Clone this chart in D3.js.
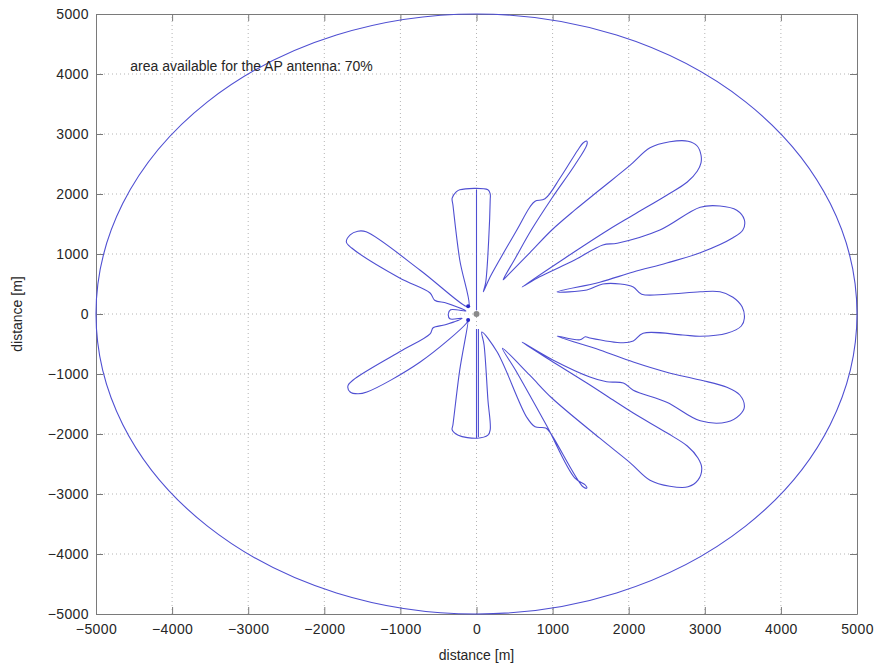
<!DOCTYPE html>
<html>
<head>
<meta charset="utf-8">
<script src="https://cdnjs.cloudflare.com/ajax/libs/d3/7.8.5/d3.min.js"></script>
<style>
body { margin: 0; background: #fff; }
svg text { font-family: "Liberation Sans", Arial, sans-serif; fill: #262626; }
</style>
</head>
<body>
<div id="chart"></div>
<script>
// ticks on both axes (meters)
var xTicks = [-5000, -4000, -3000, -2000, -1000, 0, 1000, 2000, 3000, 4000, 5000];
var yTicks = [-5000, -4000, -3000, -2000, -1000, 0, 1000, 2000, 3000, 4000, 5000];
var xLabel = "distance [m]";
var yLabel = "distance [m]";
var cellRadius = 5000;
var noteText = "area available for the AP antenna: 70%";
var notePos = [-4550, 4050];

// contour of the available area, clockwise from the top lobe
var topLobe = [[-100,130],[-220,900],[-310,1820],[-320,1930],[-270,2030],[-220,2070],[150,2070],[180,2000],[180,1900],[160,1230],[120,520],[90,370]];
var upperSpike = [[180,620],[530,1400],[700,1780],[770,1880],[900,1920],[1100,2270],[1330,2730],[1400,2850],[1450,2880],[1450,2820],[1290,2480],[990,1930],[720,1400],[510,930],[350,570]];
var lobeA = [[390,620],[700,1020],[990,1400],[1290,1730],[1620,2070],[2020,2480],[2280,2770],[2540,2870],[2780,2880],[2900,2800],[2950,2650],[2950,2520],[2900,2380],[2770,2200],[2500,1980],[2060,1650],[1730,1400],[1160,930],[600,450]];
var lobeB = [[830,620],[1290,900],[1660,1150],[1850,1180],[2410,1400],[2940,1780],[3200,1800],[3420,1730],[3520,1570],[3500,1400],[3370,1270],[2940,1020],[2500,850],[2060,700],[1620,530],[1060,370]];
var lobeC = [[1450,400],[1660,500],[1890,500],[2060,450],[2170,330],[2500,330],[2940,370],[3200,370],[3370,280],[3490,120],[3520,-70],[3480,-200],[3290,-320],[2940,-370],[2710,-350],[2190,-320],[2060,-450],[1930,-480],[1490,-400],[1430,-380],[1360,-430],[1060,-370]];
var lobeD = [[1620,-600],[2060,-800],[2500,-970],[2940,-1100],[3290,-1220],[3460,-1350],[3520,-1550],[3460,-1680],[3290,-1800],[2940,-1780],[2500,-1470],[2060,-1270],[1930,-1150],[1710,-1130],[1490,-1050],[1010,-770],[600,-470]];
var lobeE = [[970,-770],[1450,-1150],[1790,-1430],[2060,-1650],[2500,-1980],[2770,-2200],[2910,-2400],[2960,-2570],[2910,-2770],[2780,-2880],[2540,-2870],[2280,-2770],[2020,-2480],[1620,-2070],[990,-1400],[700,-1020],[340,-570]];
var lowerSpike = [[510,-930],[720,-1400],[930,-1880],[1290,-2730],[1430,-2850],[1450,-2900],[1400,-2880],[970,-1980],[910,-1900],[770,-1880],[660,-1720],[270,-630],[70,-300]];
var bottomLobe = [[100,-520],[150,-1430],[180,-1930],[150,-2020],[10,-2070],[-240,-2020],[-320,-1930],[-310,-1850],[-220,-930],[-110,-100]];
var lobeG = [[-130,-150],[-740,-800],[-1440,-1300],[-1560,-1330],[-1660,-1300],[-1690,-1200],[-1620,-1100],[-1010,-630],[-610,-330],[-570,-230],[-410,-180],[-190,-70]];
var centerLoop = [[-350,-80],[-370,0],[-340,70],[-140,50]];
var lobeF = [[-390,180],[-550,230],[-610,350],[-1010,600],[-1640,1100],[-1710,1200],[-1660,1320],[-1560,1380],[-1450,1370],[-740,730],[-140,130]];

// straight slits along x = 0
var topSlit = [[0,60],[0,2070]];
var bottomSlit = [[0,-250],[0,-2070]];
var bottomSlit2 = [[25,-250],[25,-2050]];

var contour = [].concat(topLobe, upperSpike, lobeA, lobeB, lobeC, lobeD, lobeE, lowerSpike, bottomLobe, lobeG, centerLoop, lobeF);

var width = 878;
var height = 668;
var margin = { top: 14, right: 21, bottom: 54, left: 96 };
var lineColor = "#4f4fd2";

var svg = d3.select("#chart")
    .append("svg")
    .attr("width", width)
    .attr("height", height);

var x = d3.scaleLinear().domain([-5000, 5000]).range([margin.left, width - margin.right]);
var y = d3.scaleLinear().domain([-5000, 5000]).range([height - margin.bottom, margin.top]);

// dotted grid
svg.append("g").selectAll("line")
    .data(xTicks.slice(1, -1))
    .enter().append("line")
    .attr("x1", d => x(d)).attr("x2", d => x(d))
    .attr("y1", y(-5000)).attr("y2", y(5000))
    .attr("stroke", "#b4b4b4")
    .attr("stroke-dasharray", "1,3");

svg.append("g").selectAll("line")
    .data(yTicks.slice(1, -1))
    .enter().append("line")
    .attr("y1", d => y(d)).attr("y2", d => y(d))
    .attr("x1", x(-5000)).attr("x2", x(5000))
    .attr("stroke", "#b4b4b4")
    .attr("stroke-dasharray", "1,3");

// axes, ticks pointing inside like matlab
var bottomAxis = d3.axisBottom(x).tickValues(xTicks).tickSizeInner(-7).tickSizeOuter(0).tickPadding(10).tickFormat(d3.format("d"));
var leftAxis = d3.axisLeft(y).tickValues(yTicks).tickSizeInner(-7).tickSizeOuter(0).tickPadding(7).tickFormat(d3.format("d"));

svg.append("g")
    .attr("transform", "translate(0," + y(-5000) + ")")
    .call(bottomAxis);
svg.append("g")
    .attr("transform", "translate(" + x(-5000) + ",0)")
    .call(leftAxis);

svg.append("g")
    .attr("transform", "translate(0," + y(5000) + ")")
    .call(d3.axisTop(x).tickValues(xTicks).tickSizeInner(-7).tickSizeOuter(0).tickFormat(""));
svg.append("g")
    .attr("transform", "translate(" + x(5000) + ",0)")
    .call(d3.axisRight(y).tickValues(yTicks).tickSizeInner(-7).tickSizeOuter(0).tickFormat(""));

svg.selectAll(".domain").attr("stroke", "#7a7a7a");
svg.selectAll(".tick line").attr("stroke", "#7a7a7a");
svg.selectAll(".tick text")
    .style("font-size", "14px")
    .style("letter-spacing", "0.4px")
    .attr("fill", "#262626");

// axis labels
svg.append("text")
    .attr("x", x(0))
    .attr("y", 660)
    .attr("text-anchor", "middle")
    .style("font-size", "14px")
    .text(xLabel);

svg.append("text")
    .attr("transform", "translate(22," + y(0) + ") rotate(-90)")
    .attr("text-anchor", "middle")
    .style("font-size", "14px")
    .text(yLabel);

// cell boundary
svg.append("ellipse")
    .attr("cx", x(0))
    .attr("cy", y(0))
    .attr("rx", x(cellRadius) - x(0))
    .attr("ry", y(0) - y(cellRadius))
    .attr("fill", "none")
    .attr("stroke", lineColor)
    .attr("stroke-width", 1.1);

// smooth a bit, the original contour looks rounded
var line = d3.line()
    .x(d => x(d[0]))
    .y(d => y(d[1]))
    .curve(d3.curveCatmullRomClosed.alpha(0.5));

var straight = d3.line()
    .x(d => x(d[0]))
    .y(d => y(d[1]));

svg.append("path")
    .attr("d", line(contour))
    .attr("fill", "none")
    .attr("stroke", lineColor)
    .attr("stroke-width", 1.1)
    .attr("stroke-linejoin", "round");

[topSlit, bottomSlit, bottomSlit2].forEach(function (s) {
    svg.append("path")
        .attr("d", straight(s))
        .attr("fill", "none")
        .attr("stroke", lineColor)
        .attr("stroke-width", 1.1);
});

// little marks at the antenna position
svg.append("circle").attr("cx", x(0)).attr("cy", y(0)).attr("r", 3).attr("fill", "#8a8a8a");
svg.append("circle").attr("cx", x(-110)).attr("cy", y(130)).attr("r", 2).attr("fill", "#2828c8");
svg.append("circle").attr("cx", x(-110)).attr("cy", y(-100)).attr("r", 2).attr("fill", "#2828c8");

// annotation
svg.append("text")
    .attr("x", x(notePos[0]))
    .attr("y", y(notePos[1]))
    .style("font-size", "14px")
    .text(noteText);
</script>
</body>
</html>
